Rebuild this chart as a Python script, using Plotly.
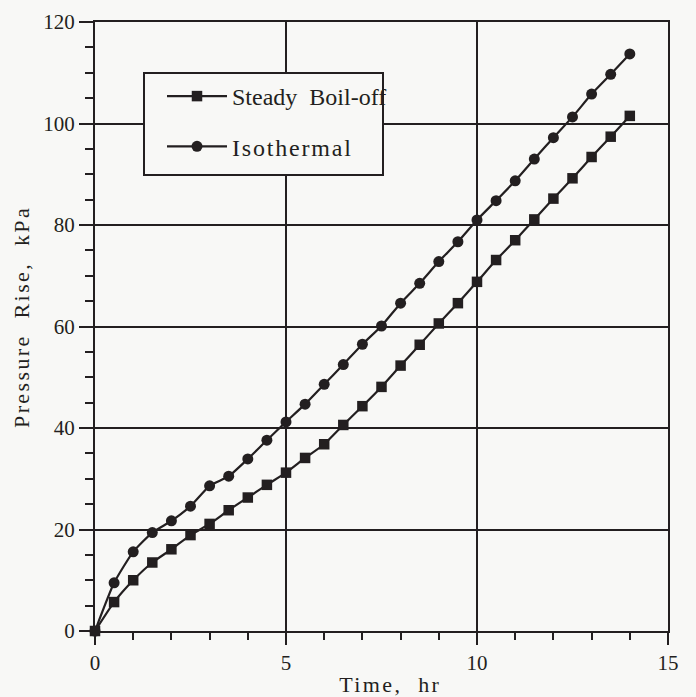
import plotly.graph_objects as go

time_hr = [0, 0.5, 1, 1.5, 2, 2.5, 3, 3.5, 4, 4.5, 5, 5.5, 6, 6.5, 7, 7.5,
           8, 8.5, 9, 9.5, 10, 10.5, 11, 11.5, 12, 12.5, 13, 13.5, 14]
steady_boiloff = [0, 5.7, 10.0, 13.5, 16.1, 18.9, 21.1, 23.8, 26.3, 28.8, 31.2,
                  34.1, 36.8, 40.6, 44.3, 48.1, 52.3, 56.4, 60.6, 64.6, 68.8,
                  73.1, 77.0, 81.1, 85.2, 89.2, 93.4, 97.4, 101.5]
isothermal = [0, 9.5, 15.6, 19.4, 21.7, 24.6, 28.6, 30.5, 33.9, 37.6, 41.2,
              44.7, 48.6, 52.5, 56.5, 60.1, 64.6, 68.5, 72.8, 76.7, 81.0,
              84.8, 88.7, 93.0, 97.2, 101.3, 105.8, 109.7, 113.7]
x_ticks = [0, 5, 10, 15]
y_ticks = [0, 20, 40, 60, 80, 100, 120]
x_title = "Time,\u00a0 hr"
y_title = "Pressure\u00a0 Rise,\u00a0 kPa"

INK = "#231f20"
BG = "#f8f8f6"
FONT = "Liberation Serif"

fig = go.Figure()
fig.add_trace(go.Scatter(
    x=time_hr, y=steady_boiloff, name="Steady\u00a0 Boil-off",
    mode="lines+markers", line=dict(color=INK, width=2.2, shape="spline", smoothing=0.5),
    marker=dict(symbol="square", size=10.5, color=INK),
    cliponaxis=False, legendgroup="a"))
fig.add_trace(go.Scatter(
    x=time_hr, y=isothermal, name="Isothermal",
    mode="lines+markers", line=dict(color=INK, width=2.2, shape="spline", smoothing=0.5),
    marker=dict(symbol="circle", size=11, color=INK),
    cliponaxis=False, legendgroup="b"))

axis_common = dict(
    showline=True, linecolor=INK, linewidth=2, mirror=True,
    showgrid=True, gridcolor=INK, gridwidth=1.5,
    ticks="outside", tickcolor=INK, tickwidth=2,
    zeroline=False, automargin=False,
    tickfont=dict(family=FONT, size=21, color=INK),
)

fig.update_xaxes(
    range=[0, 15], tickvals=x_ticks, ticktext=[str(v) for v in x_ticks], ticklen=12,
    minor=dict(dtick=1, ticks="outside", ticklen=7, tickcolor=INK, tickwidth=1.5, showgrid=False),
    **axis_common)
fig.update_yaxes(
    range=[0, 120], tickvals=y_ticks, ticktext=[str(v) for v in y_ticks], ticklen=14,
    minor=dict(dtick=5, ticks="outside", ticklen=8, tickcolor=INK, tickwidth=1.5, showgrid=False),
    **axis_common)

# axis titles
fig.add_annotation(text=x_title, xref="paper", yref="paper",
                   x=(390 - 95) / 573, y=0, yshift=-53,
                   xanchor="center", yanchor="middle", showarrow=False, borderpad=0,
                   font=dict(family=FONT, size=22, color=INK))
fig.add_annotation(text=y_title, xref="paper", yref="paper",
                   x=0, xshift=-74, y=(631 - 317) / 609, textangle=-90,
                   xanchor="center", yanchor="middle", showarrow=False, borderpad=0,
                   font=dict(family=FONT, size=22, color=INK))

# legend box
fig.add_shape(type="rect", xref="paper", yref="paper",
              x0=(144 - 95) / 573, x1=(383 - 95) / 573,
              y0=(631 - 175) / 609, y1=(631 - 73) / 609,
              fillcolor=BG, line=dict(color=INK, width=2), layer="above")

fig.update_layout(
    width=688, height=689,
    margin=dict(l=87, r=28, t=14, b=66),
    paper_bgcolor=BG, plot_bgcolor=BG,
    showlegend=True,
    legend=dict(x=(162 - 95) / 573, y=(631 - 74) / 609, xanchor="left", yanchor="top",
                bgcolor="rgba(0,0,0,0)", borderwidth=0,
                font=dict(family=FONT, size=24, color=INK),
                tracegroupgap=16, itemwidth=60),
)

post = ("document.body.style.background='%s';"
        "document.querySelectorAll('.annotation-text').forEach(function(t){"
        "t.style.letterSpacing='2.4px';});"
        "var lt=document.querySelectorAll('.legendtext');"
        "if(lt.length>1){lt[1].style.letterSpacing='1.8px';}" % BG)
fig.write_html("out.html", post_script=post)
